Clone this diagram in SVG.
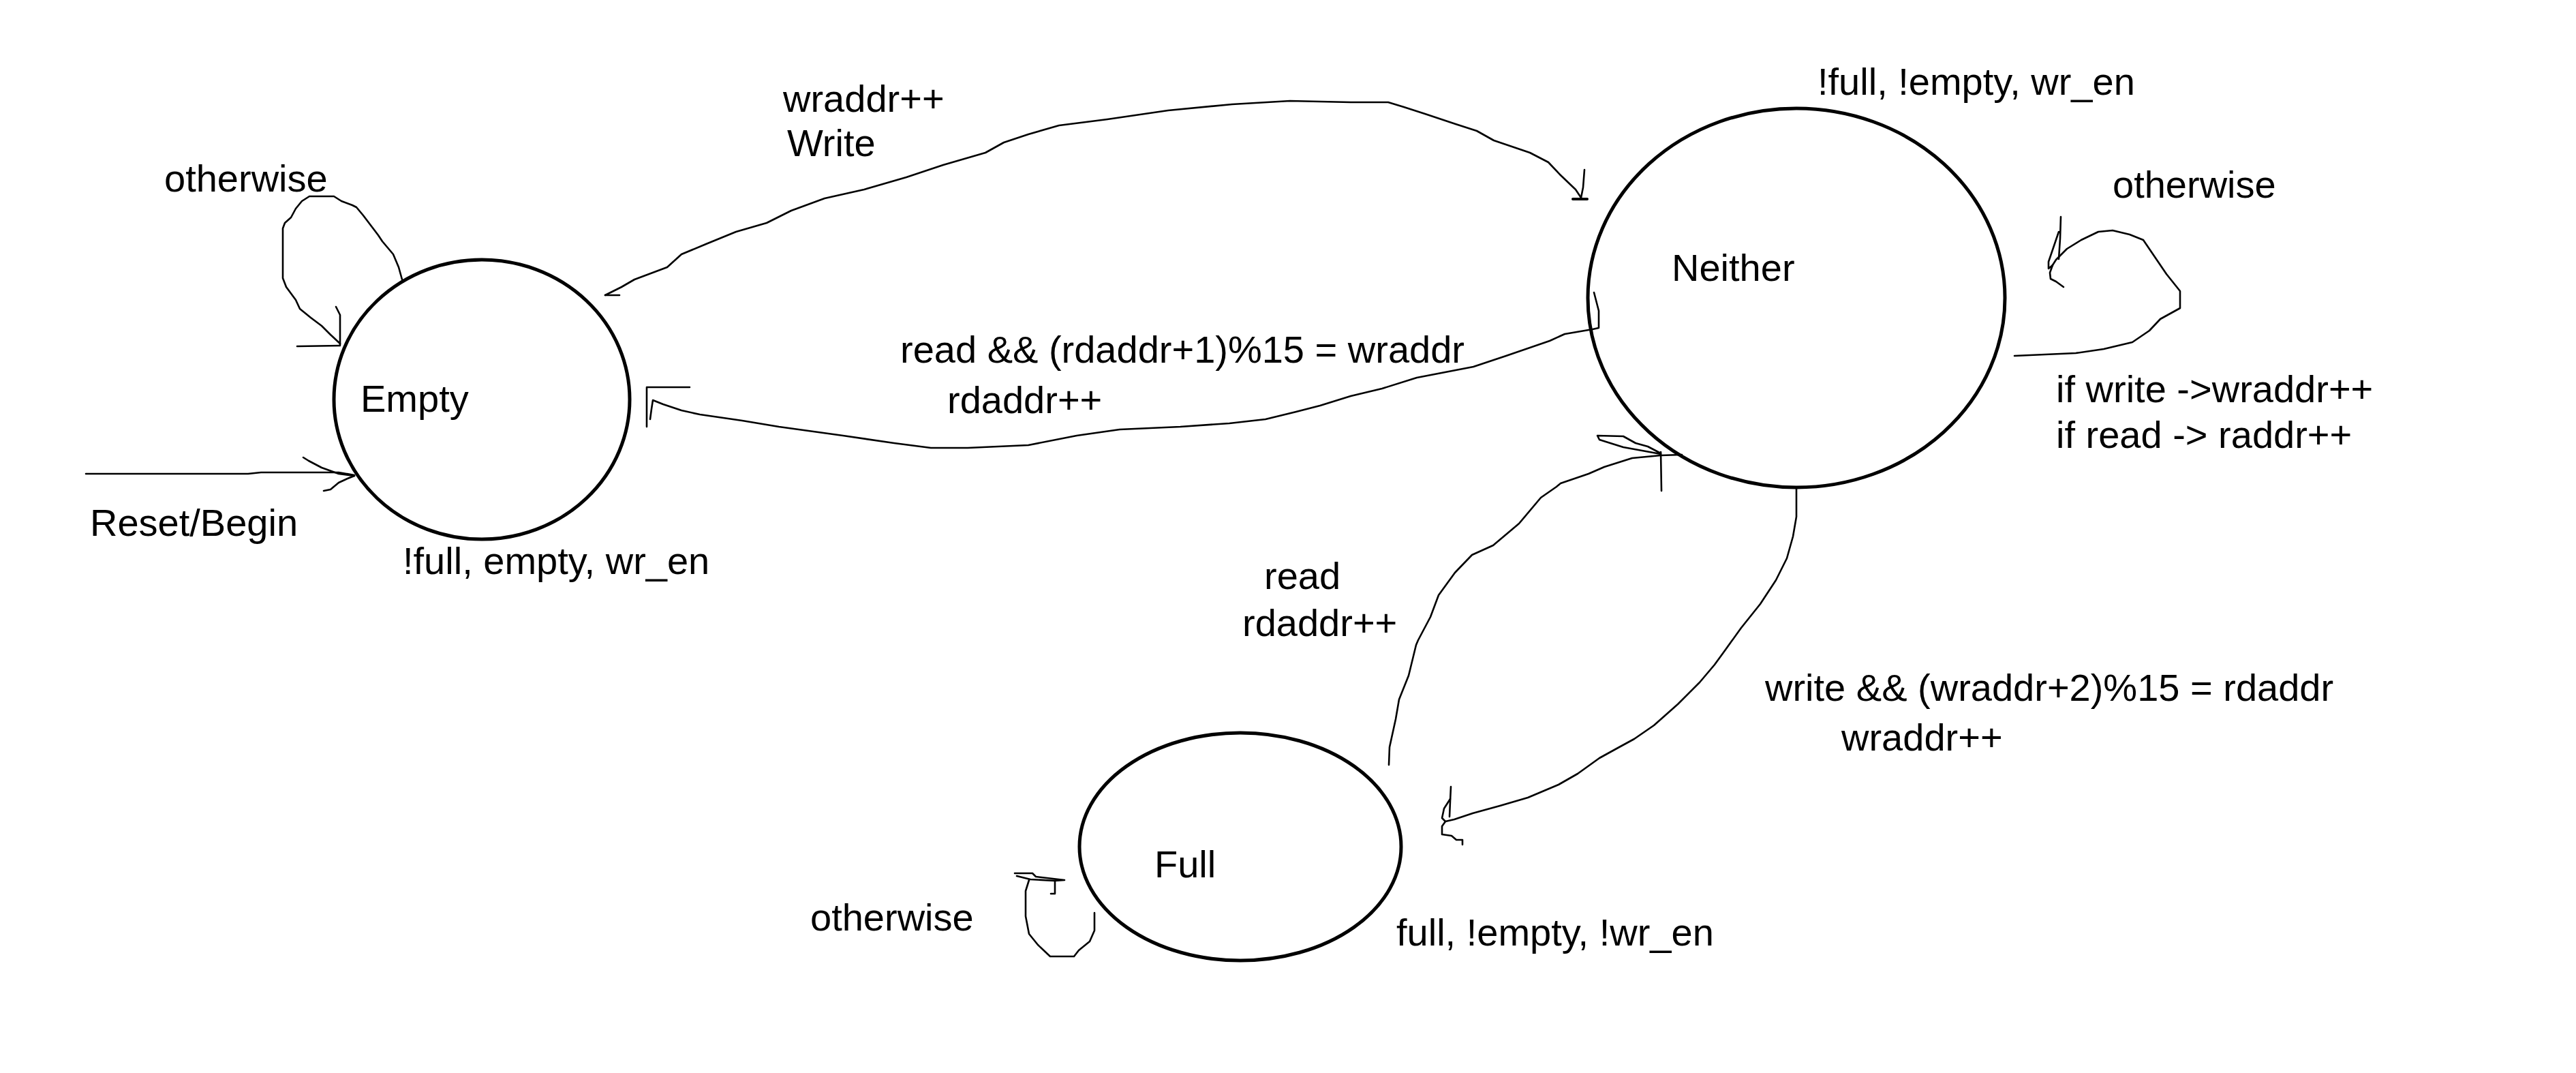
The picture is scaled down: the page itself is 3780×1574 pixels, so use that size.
<svg xmlns="http://www.w3.org/2000/svg" width="3780" height="1574" viewBox="0 0 3780 1574">
<style>
.bg{fill:#fff}
.state{fill:none;stroke:#000;stroke-width:5}
.wire{fill:none;stroke:#000;stroke-width:2.6;stroke-linejoin:round;stroke-linecap:round}
.t{font-family:"Liberation Sans",Arial,sans-serif;font-size:56px;fill:#000}
</style>
<rect class="bg" width="3780" height="1574"/>
<g id="node-empty">
<ellipse class="state" cx="707" cy="586" rx="217" ry="205"/>
<text class="t" x="529" y="604">Empty</text>
<text class="t" x="591" y="842">!full, empty, wr_en</text>
</g>
<g id="node-neither">
<ellipse class="state" cx="2636" cy="437" rx="306" ry="278"/>
<text class="t" x="2453" y="412">Neither</text>
<text class="t" x="2667" y="139">!full, !empty, wr_en</text>
</g>
<g id="node-full">
<ellipse class="state" cx="1820" cy="1242" rx="236" ry="167"/>
<text class="t" x="1694" y="1287">Full</text>
<text class="t" x="2049" y="1387">full, !empty, !wr_en</text>
</g>
<g id="connectors">
<g id="reset">
<polyline class="wire" points="126,695 364,695 383,693 497,693 520,697"/>
<polyline class="wire" points="445,671 453,676 472,686 497,695 520,698"/>
<polyline class="wire" points="475,720 485,718 497,708 510,702 520,698"/>
<text class="t" x="132" y="786">Reset/Begin</text>
</g>
<g id="empty-loop">
<polyline class="wire" points="590,410 585,392 577,373 561,354 555,345 533,316 523,304 517,301 501,295 490,288 454,288 443,295 434,306 427,319 418,327 415,335 415,408 420,421 434,440 440,453 456,466 472,478 485,491 499,504"/>
<polyline class="wire" points="493,450 499,462 499,506"/>
<polyline class="wire" points="436,508 499,507"/>
<text class="t" x="241" y="281">otherwise</text>
</g>
<g id="empty-to-neither">
<polyline class="wire" points="888,433 912,421 931,410 979,392 1000,373 1036,358 1080,340 1125,327 1161,309 1210,291 1268,278 1330,260 1384,242 1446,224 1473,209 1509,197 1554,184 1625,175 1714,162 1808,153 1893,148 1982,150 2037,150 2060,157 2091,167 2136,182 2167,192 2192,206 2245,224 2272,238 2290,257 2312,278 2320,290"/>
<polyline class="wire" points="888,433 909,433"/>
<polyline class="wire" points="2325,249 2323,275 2320,290"/>
<polyline class="wire" points="2308,292 2329,292" style="stroke-width:4"/>
<text class="t" x="1149" y="164">wraddr++</text>
<text class="t" x="1155" y="229">Write</text>
</g>
<g id="neither-to-empty">
<polyline class="wire" points="2339,429 2346,456 2346,481 2337,483 2296,490 2274,500 2210,522 2162,538 2079,554 2028,570 1982,581 1937,595 1902,604 1857,615 1804,621 1732,626 1643,630 1580,639 1509,653 1420,657 1366,657 1312,650 1237,639 1143,626 1089,617 1027,608 1000,602 973,593 958,587 956,600 954,615"/>
<polyline class="wire" points="949,626 949,568 1012,568"/>
<text class="t" x="1321" y="532">read &amp;&amp; (rdaddr+1)%15 = wraddr</text>
<text class="t" x="1390" y="606">rdaddr++</text>
</g>
<g id="neither-loop">
<polyline class="wire" points="2956,522 3046,518 3087,512 3129,502 3154,485 3170,468 3199,452 3199,427 3179,402 3162,377 3145,352 3125,344 3100,338 3079,340 3054,352 3033,365 3017,381 3010,392"/>
<polyline class="wire" points="3024,318 3023,350 3021,380"/>
<polyline class="wire" points="3021,340 3006,384 3006,394 3012,389 3008,400 3009,409 3017,413 3028,421"/>
<text class="t" x="3100" y="290">otherwise</text>
<text class="t" x="3017" y="590">if write -&gt;wraddr++</text>
<text class="t" x="3017" y="657">if read -&gt; raddr++</text>
</g>
<g id="full-to-neither">
<polyline class="wire" points="2038,1122 2039,1096 2048,1055 2053,1026 2067,991 2078,946 2081,939 2099,905 2111,873 2135,840 2160,814 2191,800 2229,768 2261,730 2284,714 2290,709 2331,695 2354,685 2395,672 2437,668 2468,667"/>
<polyline class="wire" points="2437,665 2418,655 2400,650 2382,640 2344,639 2347,645 2382,656 2437,666"/>
<polyline class="wire" points="2437,663 2438,720"/>
<text class="t" x="1855" y="864">read</text>
<text class="t" x="1823" y="933">rdaddr++</text>
</g>
<g id="neither-to-full">
<polyline class="wire" points="2636,717 2636,758 2631,787 2622,819 2606,851 2583,886 2555,921 2532,953 2516,975 2494,1001 2462,1033 2427,1064 2398,1084 2376,1096 2347,1112 2315,1135 2287,1151 2242,1170 2201,1182 2161,1193 2134,1202 2121,1205"/>
<polyline class="wire" points="2129,1154 2128,1175 2127,1198"/>
<polyline class="wire" points="2128,1172 2119,1186 2116,1200 2121,1205 2116,1212 2116,1224 2130,1226 2137,1232 2146,1232 2146,1239"/>
<text class="t" x="2590" y="1028">write &amp;&amp; (wraddr+2)%15 = rdaddr</text>
<text class="t" x="2702" y="1101">wraddr++</text>
</g>
<g id="full-loop">
<polyline class="wire" points="1606,1339 1606,1365 1599,1381 1583,1394 1576,1403 1541,1403 1523,1386 1510,1370 1505,1344 1505,1307 1510,1291"/>
<polyline class="wire" points="1489,1281 1515,1281 1520,1286 1562,1291 1548,1292 1512,1290 1492,1285"/>
<polyline class="wire" points="1548,1292 1548,1311 1542,1311"/>
<text class="t" x="1189" y="1365">otherwise</text>
</g>
</g>
</svg>
